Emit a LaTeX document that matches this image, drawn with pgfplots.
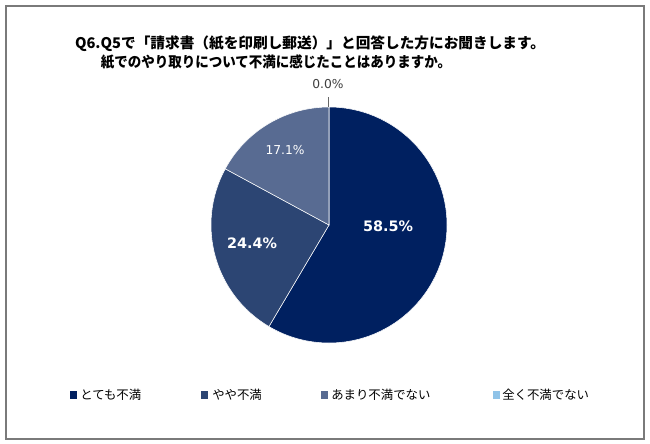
\documentclass[border=0pt]{standalone}
\usepackage{pgfplots}
\pgfplotsset{compat=1.18}
\usepackage{fontspec}
\setmainfont{DejaVu Sans}
\newfontfamily\jp{Noto Sans CJK JP}
\definecolor{s1}{HTML}{002060}
\definecolor{s2}{HTML}{2C4573}
\definecolor{s3}{HTML}{586B92}
\definecolor{s4}{HTML}{8FC3E8}
\definecolor{frame}{HTML}{7A7A7A}

% shares in percent
\def\vA{58.5}
\def\vB{24.4}
\def\vC{17.1}
\def\vD{0.0}
\pgfmathsetmacro\aA{90}
\pgfmathsetmacro\aB{\aA-\vA*3.6}
\pgfmathsetmacro\aC{\aB-\vB*3.6}
\pgfmathsetmacro\aD{\aC-\vC*3.6}
\pgfmathsetmacro\aE{\aD-\vD*3.6}
\def\R{88.5pt}% pie radius (118 px)

\begin{document}
\begin{tikzpicture}
\begin{axis}[
  x=0.75pt, y=0.75pt, y dir=reverse,
  xmin=0, xmax=650, ymin=0, ymax=443,
  hide axis, clip=false, scale only axis, ticks=none,
  anchor=south west, at={(0,0)},
]
\draw[frame, line width=1.5pt] (axis cs:5.5,5.5) rectangle (axis cs:644,438.5);

% title
\node[font=\jp\bfseries\fontsize{11}{12}\selectfont] at (axis cs:310,44)
  {Q6.Q5で「請求書（紙を印刷し郵送）」と回答した方にお聞きします。};
\node[font=\jp\bfseries\fontsize{11}{12}\selectfont, xscale=0.92] at (axis cs:276,62)
  {紙でのやり取りについて不満に感じたことはありますか。};

% pie slices
\fill[s1, draw=white, line width=0.4pt] (axis cs:329,225) -- ++(\aA:\R) arc[start angle=\aA, end angle=\aB, radius=\R] -- cycle;
\fill[s2, draw=white, line width=0.4pt] (axis cs:329,225) -- ++(\aB:\R) arc[start angle=\aB, end angle=\aC, radius=\R] -- cycle;
\fill[s3, draw=white, line width=0.4pt] (axis cs:329,225) -- ++(\aC:\R) arc[start angle=\aC, end angle=\aD, radius=\R] -- cycle;

% data labels
\node[white, font=\bfseries\fontsize{10.8}{12}\selectfont] at (axis cs:388,226) {58.5\%};
\node[white, font=\bfseries\fontsize{10.8}{12}\selectfont] at (axis cs:252,243) {24.4\%};
\node[white, font=\fontsize{9.2}{11}\selectfont] at (axis cs:285,150) {17.1\%};
\node[black!75, font=\fontsize{9.2}{11}\selectfont] at (axis cs:328,84) {0.0\%};
\draw[black!60, line width=0.5pt] (axis cs:328.5,97) -- (axis cs:328.5,107);

% legend
\fill[s1] (axis cs:70,391) rectangle (axis cs:77,399);
\node[anchor=west, inner sep=0pt, font=\jp\fontsize{9.3}{11}\selectfont] at (axis cs:80,395) {とても不満};
\fill[s2] (axis cs:201,391) rectangle (axis cs:208,399);
\node[anchor=west, inner sep=0pt, font=\jp\fontsize{9.3}{11}\selectfont] at (axis cs:212,395) {やや不満};
\fill[s3] (axis cs:321,391) rectangle (axis cs:328,399);
\node[anchor=west, inner sep=0pt, font=\jp\fontsize{9.3}{11}\selectfont] at (axis cs:331,395) {あまり不満でない};
\fill[s4] (axis cs:493,391) rectangle (axis cs:500,399);
\node[anchor=west, inner sep=0pt, font=\jp\fontsize{9.3}{11}\selectfont] at (axis cs:502,395) {全く不満でない};
\end{axis}
\pgfresetboundingbox
\path (0,0) rectangle (487.5pt,332.25pt);
\end{tikzpicture}
\end{document}
